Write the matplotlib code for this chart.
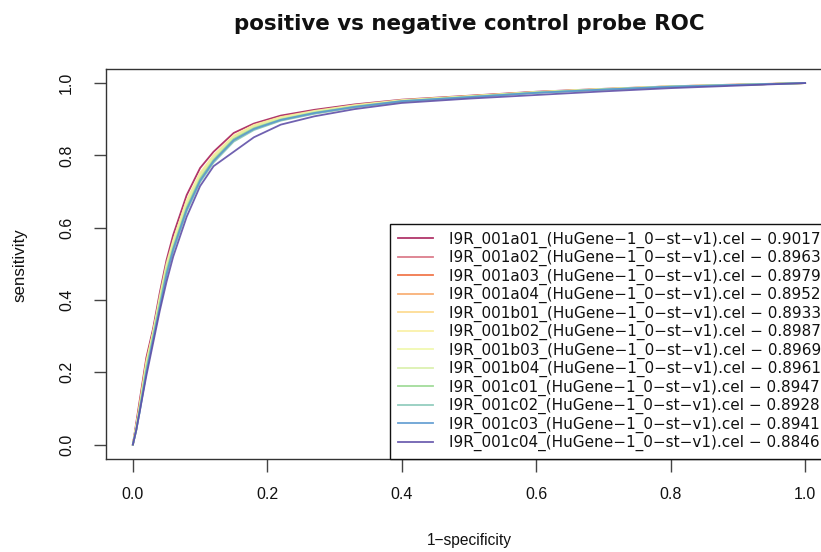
import matplotlib
matplotlib.use("Agg")
import matplotlib.pyplot as plt

plt.rcParams['font.family'] = ['Liberation Sans', 'DejaVu Sans']

fpr = [0, 0.005, 0.01, 0.02, 0.03, 0.04, 0.05, 0.06, 0.07, 0.08, 0.10, 0.12,
       0.15, 0.18, 0.22, 0.27, 0.33, 0.40, 0.50, 0.60, 0.70, 0.80, 0.90, 1.0]

names = ["I9R_001a01", "I9R_001a02", "I9R_001a03", "I9R_001a04",
         "I9R_001b01", "I9R_001b02", "I9R_001b03", "I9R_001b04",
         "I9R_001c01", "I9R_001c02", "I9R_001c03", "I9R_001c04"]
aucs = ["0.9017", "0.8963", "0.8979", "0.8952", "0.8933", "0.8987",
        "0.8969", "0.8961", "0.8947", "0.8928", "0.8941", "0.8846"]

tpr_a01 = [0, .06, .12, .24, .32, .42, .51, .58, .635, .69, .765, .81, .862, .888, .91, .926, .941, .954, .965, .976, .984, .991, .996, 1]
tpr_a02 = [0, .05, .10, .22, .31, .40, .49, .555, .61, .665, .742, .792, .848, .878, .902, .92, .936, .951, .963, .975, .983, .991, .995, 1]
tpr_a03 = [0, .05, .11, .23, .31, .40, .49, .56, .615, .67, .748, .798, .852, .882, .905, .922, .938, .952, .964, .975, .983, .990, .995, 1]
tpr_a04 = [0, .05, .10, .22, .30, .39, .48, .55, .605, .66, .738, .79, .846, .876, .900, .919, .935, .950, .962, .974, .983, .990, .995, 1]
tpr_b01 = [0, .04, .10, .21, .29, .38, .47, .54, .595, .65, .73, .783, .84, .872, .897, .916, .933, .949, .961, .974, .982, .990, .995, 1]
tpr_b02 = [0, .05, .11, .23, .31, .41, .50, .565, .62, .675, .752, .80, .855, .884, .906, .923, .939, .953, .964, .975, .984, .991, .996, 1]
tpr_b03 = [0, .05, .10, .22, .31, .40, .49, .56, .612, .668, .745, .795, .85, .88, .903, .921, .937, .951, .963, .975, .983, .991, .995, 1]
tpr_b04 = [0, .05, .10, .22, .30, .40, .49, .553, .607, .662, .74, .792, .848, .878, .901, .92, .936, .951, .963, .974, .983, .991, .995, 1]
tpr_c01 = [0, .04, .10, .21, .30, .39, .48, .545, .60, .655, .735, .787, .845, .875, .899, .918, .935, .950, .962, .974, .982, .990, .995, 1]
tpr_c02 = [0, .04, .09, .20, .29, .38, .47, .535, .59, .645, .726, .78, .838, .87, .896, .915, .933, .949, .961, .973, .982, .990, .995, 1]
tpr_c03 = [0, .04, .09, .20, .29, .38, .47, .54, .595, .65, .73, .784, .842, .873, .898, .917, .934, .950, .961, .973, .982, .990, .995, 1]
tpr_c04 = [0, .04, .09, .19, .28, .37, .45, .52, .575, .63, .715, .77, .81, .85, .885, .908, .928, .945, .957, .967, .977, .986, .993, 1]

tprs = [tpr_a01, tpr_a02, tpr_a03, tpr_a04, tpr_b01, tpr_b02, tpr_b03,
        tpr_b04, tpr_c01, tpr_c02, tpr_c03, tpr_c04]

colors = ["#A8205A", "#D87080", "#F06A3A", "#F8A868", "#FDD888", "#FAF0A0",
          "#F0F8A8", "#D8F0A8", "#98D890", "#88C8B8", "#5A98D0", "#6050A8"]

xticks = [0.0, 0.2, 0.4, 0.6, 0.8, 1.0]
yticks = [0.0, 0.2, 0.4, 0.6, 0.8, 1.0]

W, H = 821, 552
fig = plt.figure(figsize=(W / 100, H / 100), dpi=100)
left, right, top, bottom = 106, 832, 68.6, 459
ax = fig.add_axes([left / W, 1 - bottom / H, (right - left) / W, (bottom - top) / H])

handles = []
for n, t, c in zip(names, tprs, colors):
    h, = ax.plot(fpr, t, color=c, lw=1.3, alpha=0.9)
    handles.append(h)

ax.set_xlim(-0.04, 1.04)
ax.set_ylim(-0.04, 1.04)
ax.set_xticks(xticks)
ax.set_yticks(yticks)
ax.set_xticklabels([f"{v:.1f}" for v in xticks])
ax.set_yticklabels([f"{v:.1f}" for v in yticks], rotation=90, va='center')

for s in ax.spines.values():
    s.set_color('#333333')
    s.set_linewidth(1.0)
ax.tick_params(axis='both', direction='out', length=9, width=1.0,
               color='#444444', labelsize=11.5, labelcolor='#111111')
ax.tick_params(axis='x', pad=11)
ax.tick_params(axis='y', pad=14)

ax.set_xlabel("1\u2212specificity", fontsize=11.2, color='#111111')
ax.xaxis.set_label_coords(0.5, -0.19)
ax.set_ylabel("sensitivity", fontsize=12.2, color='#111111')
ax.yaxis.set_label_coords(-0.1088, 0.497)

ax.text(0.5, 1.099, "positive vs negative control probe ROC", transform=ax.transAxes,
        ha='center', va='baseline', fontsize=15.4, fontweight='bold', color='#111111',
        family=['DejaVu Sans'])

labels = [f"{n}_(HuGene\u22121_0\u2212st\u2212v1).cel \u2212 {a}" for n, a in zip(names, aucs)]
leg = ax.legend(handles, labels, loc='lower left', bbox_to_anchor=(0.391, 0.0),
                borderaxespad=0, fancybox=False, frameon=True, framealpha=1,
                edgecolor='#111111', prop={'family': ['DejaVu Sans'], 'size': 11},
                handlelength=2.35, handletextpad=1.0, labelspacing=0.15,
                borderpad=0.5)
leg.get_frame().set_linewidth(1.0)
for t in leg.get_texts():
    t.set_color('#111111')

fig.savefig("out.png", dpi=100)
